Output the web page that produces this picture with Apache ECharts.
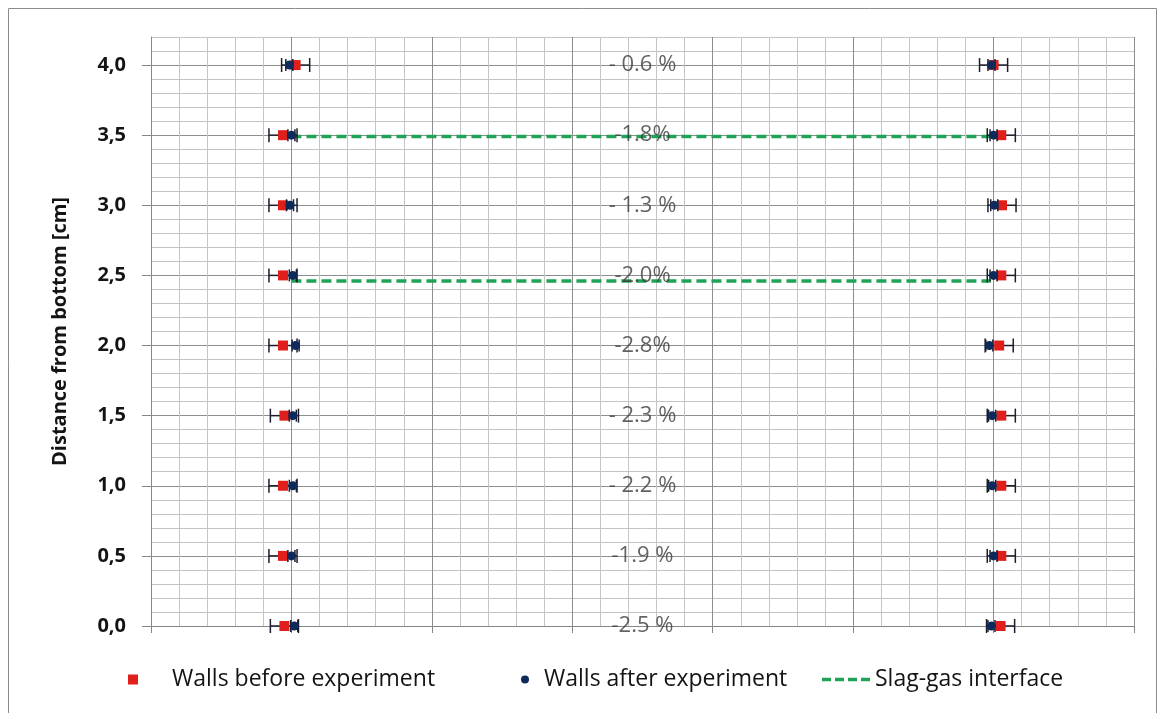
<!DOCTYPE html>
<html>
<head>
<meta charset="utf-8">
<title>Wall positions before and after experiment</title>
<script src="https://cdn.jsdelivr.net/npm/echarts@6/dist/echarts.min.js"></script>
<style>
  html, body { margin: 0; padding: 0; background: #ffffff; }
  #chart { width: 1162px; height: 713px; }
</style>
</head>
<body>
<div id="chart"></div>
<script>
// Measurement heights above the crucible bottom [cm]
const heights = [0, 0.5, 1.0, 1.5, 2.0, 2.5, 3.0, 3.5, 4.0];

// Wall positions (horizontal coordinate) at each height
const leftBefore  = [0.95, 0.94, 0.94, 0.95, 0.94, 0.94, 0.94, 0.94, 1.03];
const leftAfter   = [1.02, 1.00, 1.01, 1.01, 1.03, 1.01, 0.99, 1.00, 0.985];
const rightBefore = [6.05, 6.055, 6.055, 6.055, 6.04, 6.055, 6.06, 6.055, 6.00];
const rightAfter  = [5.985, 6.00, 5.99, 5.99, 5.97, 6.00, 6.005, 6.00, 5.985];

// Error half-widths of the position readings
const beforeError = 0.1;
const afterError = 0.025;

// Relative width change at each height
const changeLabels = ['-2.5 %', '-1.9 %', '- 2.2 %', '- 2.3 %', '-2.8%', '-2.0%', '- 1.3 %', '-1.8%', '- 0.6 %'];
const changeColumn = 3.5;

// Slag-gas interface heights and their horizontal extent
const interfaceHeights = [3.49, 2.46];
const interfaceSpan = [1.0, 5.98];

// Labelled ticks of the height axis
const yTicks = [0, 0.5, 1.0, 1.5, 2.0, 2.5, 3.0, 3.5, 4.0];

const FONT = '"Open Sans", Lato, sans-serif';
const RED = '#e01f1c';
const NAVY = '#0e2a5a';
const GREEN = '#1fa357';
const BAR = '#1c1c2a';

function pairs(xs) {
  return heights.map((h, i) => [xs[i], h]);
}

function errorData(xs, err) {
  return heights.map((h, i) => [xs[i], h, err]);
}

// Horizontal error bar with end caps, placed through the axis scales
function errorBar(capHalf) {
  return function (params, api) {
    const x = api.value(0), y = api.value(1), e = api.value(2);
    const a = api.coord([x - e, y]);
    const b = api.coord([x + e, y]);
    const style = { stroke: BAR, lineWidth: 1.5, fill: null };
    return {
      type: 'group',
      children: [
        { type: 'line', shape: { x1: a[0], y1: a[1], x2: b[0], y2: b[1] }, style },
        { type: 'line', shape: { x1: a[0], y1: a[1] - capHalf, x2: a[0], y2: a[1] + capHalf }, style },
        { type: 'line', shape: { x1: b[0], y1: b[1] - capHalf, x2: b[0], y2: b[1] + capHalf }, style }
      ]
    };
  };
}

const chart = echarts.init(document.getElementById('chart'), null, { renderer: 'canvas' });

const interfaceSeries = interfaceHeights.map(h => ({
  name: 'Slag-gas interface',
  type: 'line',
  data: [[interfaceSpan[0], h], [interfaceSpan[1], h]],
  symbol: 'none',
  silent: true,
  z: 3,
  lineStyle: { color: GREEN, width: 3.5, type: [10, 5] },
  itemStyle: { color: GREEN }
}));

const legendText = { fontFamily: FONT, fontSize: 23, color: '#141414' };

const option = {
  backgroundColor: '#ffffff',
  animation: false,
  graphic: [{
    type: 'rect',
    shape: { x: 8.5, y: 8.5, width: 1148, height: 730 },
    style: { fill: null, stroke: '#8c8c8c', lineWidth: 1 },
    silent: true
  }],
  grid: { left: 151, right: 28, top: 37, bottom: 87, containLabel: false },
  legend: [
    {
      data: ['Walls before experiment'],
      left: 128, top: 668, padding: 0,
      itemWidth: 10, itemHeight: 10,
      textStyle: Object.assign({}, legendText, { padding: [0, 0, 0, 29] })
    },
    {
      data: ['Walls after experiment'],
      left: 521, top: 668, padding: 0,
      itemWidth: 8, itemHeight: 8,
      textStyle: Object.assign({}, legendText, { padding: [0, 0, 0, 10] })
    },
    {
      data: [{
        name: 'Slag-gas interface',
        icon: 'path://M0,0h9v3.5h-9z M13,0h9v3.5h-9z M26,0h9v3.5h-9z M39,0h9v3.5h-9z'
      }],
      left: 822, top: 668, padding: 0,
      itemWidth: 48, itemHeight: 3.5,
      textStyle: Object.assign({}, legendText, { padding: [0, 0, 0, 0] })
    }
  ],
  xAxis: {
    type: 'value',
    min: 0, max: 7, interval: 1,
    axisLabel: { show: false },
    axisLine: { show: true, onZero: false, lineStyle: { color: '#868686', width: 1 } },
    axisTick: { show: true, length: 7, lineStyle: { color: '#868686' } },
    splitLine: { show: true, lineStyle: { color: '#8e8e8e', width: 1 } },
    minorTick: { show: false, splitNumber: 5 },
    minorSplitLine: { show: true, lineStyle: { color: '#c4c4c4', width: 1 } }
  },
  yAxis: [
    {
      type: 'value',
      min: 0, max: 4.2, interval: 0.1,
      axisLine: { show: false },
      axisTick: { show: false },
      axisLabel: { show: false },
      splitLine: {
        show: true,
        lineStyle: { color: ['#8e8e8e', '#c4c4c4', '#c4c4c4', '#c4c4c4', '#c4c4c4'], width: 1 }
      }
    },
    {
      type: 'value',
      min: 0, max: 4.2, interval: 0.5,
      position: 'left',
      name: 'Distance from bottom [cm]',
      nameLocation: 'middle',
      nameGap: 81,
      nameTextStyle: { fontFamily: FONT, fontSize: 20, fontWeight: 'bold', color: '#141414' },
      axisLine: { show: true, onZero: false, lineStyle: { color: '#868686', width: 1 } },
      axisTick: { show: true, length: 9, customValues: yTicks, lineStyle: { color: '#868686' } },
      axisLabel: {
        customValues: yTicks,
        margin: 25,
        fontFamily: FONT, fontSize: 20, fontWeight: 'bold', color: '#141414',
        formatter: v => (yTicks.indexOf(Math.round(v * 10) / 10) >= 0 ? v.toFixed(1).replace('.', ',') : '')
      },
      splitLine: { show: false }
    }
  ],
  series: [
    ...interfaceSeries,
    {
      type: 'custom',
      renderItem: errorBar(7),
      data: errorData(leftBefore, beforeError).concat(errorData(rightBefore, beforeError)),
      encode: { x: 0, y: 1 },
      silent: true,
      z: 4
    },
    {
      name: 'Walls before experiment',
      type: 'scatter',
      symbol: 'rect',
      symbolSize: 10,
      data: pairs(leftBefore).concat(pairs(rightBefore)),
      itemStyle: { color: RED, opacity: 1 },
      z: 5
    },
    {
      type: 'custom',
      renderItem: errorBar(6),
      data: errorData(leftAfter, afterError).concat(errorData(rightAfter, afterError)),
      encode: { x: 0, y: 1 },
      silent: true,
      z: 6
    },
    {
      name: 'Walls after experiment',
      type: 'scatter',
      symbol: 'circle',
      symbolSize: 9,
      data: pairs(leftAfter).concat(pairs(rightAfter)),
      itemStyle: { color: NAVY, opacity: 1 },
      z: 7
    },
    {
      type: 'scatter',
      symbolSize: 1,
      silent: true,
      itemStyle: { color: 'rgba(0,0,0,0)' },
      data: heights.map((h, i) => ({ value: [changeColumn, h], text: changeLabels[i] })),
      label: {
        show: true,
        position: 'inside',
        formatter: p => p.data.text,
        fontFamily: FONT,
        fontSize: 22,
        color: '#3c3c3c'
      },
      z: 10
    }
  ]
};

chart.setOption(option);
</script>
</body>
</html>
